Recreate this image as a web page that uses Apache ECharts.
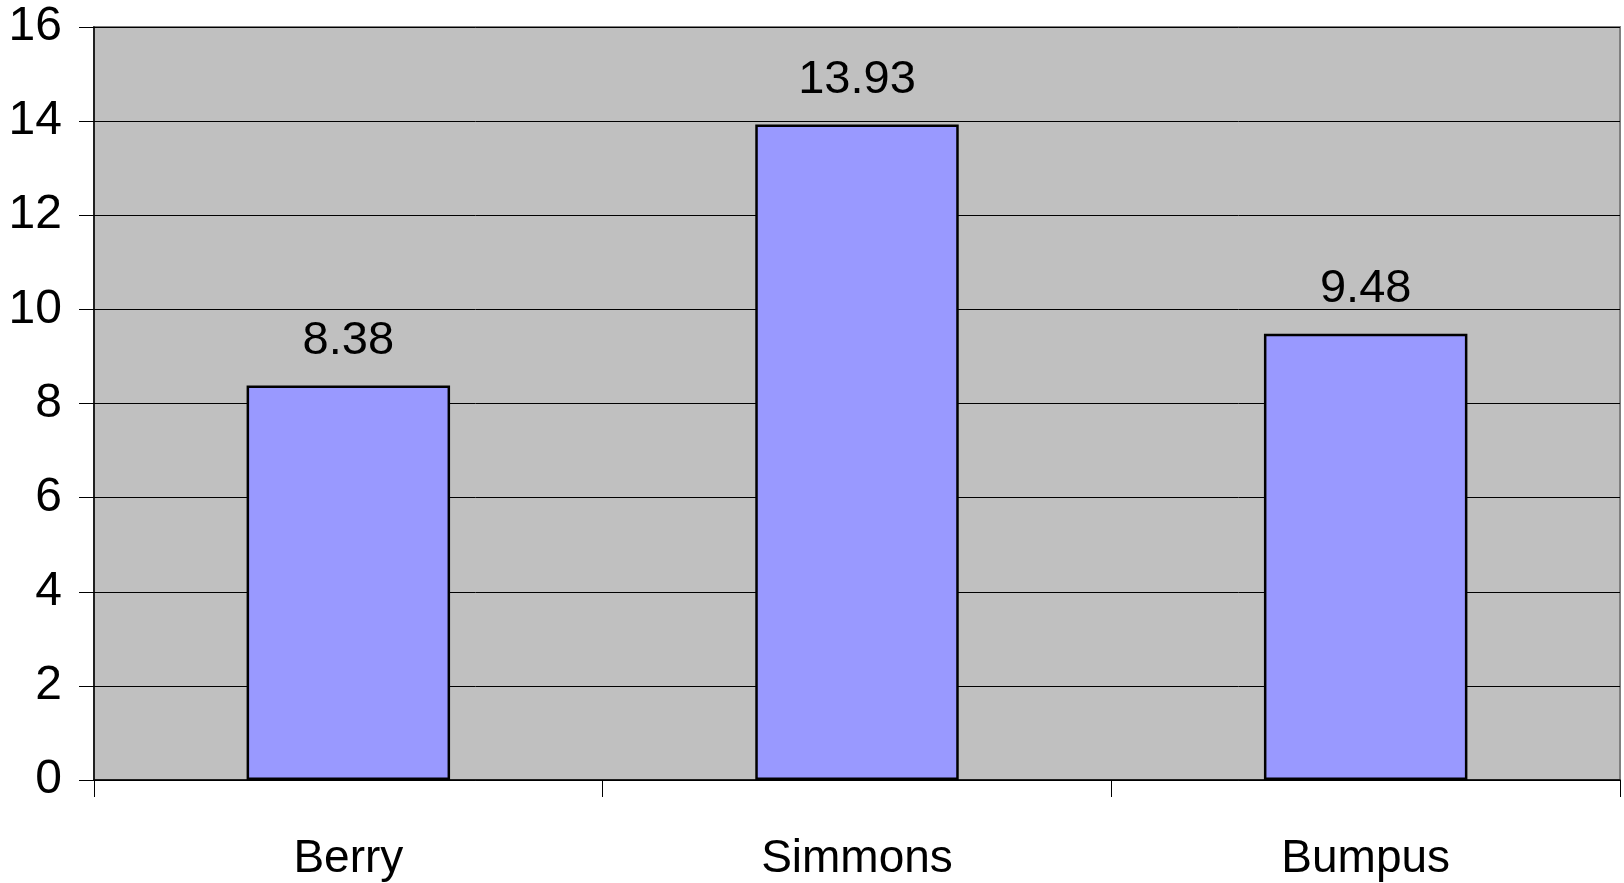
<!DOCTYPE html>
<html>
<head>
<meta charset="utf-8">
<script src="https://cdn.jsdelivr.net/npm/echarts@6/dist/echarts.min.js"></script>
<style>
html,body{margin:0;padding:0;background:#fff;}
#chart{width:1624px;height:883px;}
</style>
</head>
<body>
<div id="chart"></div>
<script>
const categories = ['Berry', 'Simmons', 'Bumpus'];
const values = [8.38, 13.93, 9.48];
const yTicks = { min: 0, max: 16, interval: 2 };

const FONT = '"Liberation Sans", Arial, sans-serif';
const chart = echarts.init(document.getElementById('chart'), null, { renderer: 'canvas' });
chart.setOption({
  animation: false,
  backgroundColor: '#ffffff',
  grid: {
    left: 94, top: 27, right: 4, bottom: 103,
    show: true, backgroundColor: '#c0c0c0', borderColor: '#808080', borderWidth: 2
  },
  xAxis: {
    type: 'category',
    data: categories,
    axisLine: { show: true, lineStyle: { color: '#000', width: 1.5 } },
    axisTick: { show: true, length: 17, lineStyle: { color: '#000', width: 1 } },
    axisLabel: { color: '#000', fontFamily: FONT, fontSize: 46, margin: 56 },
    splitLine: { show: false }
  },
  yAxis: {
    type: 'value',
    min: yTicks.min, max: yTicks.max, interval: yTicks.interval,
    axisLine: { show: true, lineStyle: { color: '#000', width: 1.5 } },
    axisTick: { show: true, length: 15, lineStyle: { color: '#000', width: 1 } },
    axisLabel: { color: '#000', fontFamily: FONT, fontSize: 48, margin: 32 },
    splitLine: { show: true, lineStyle: { color: '#000', width: 1 } }
  },
  series: [{
    type: 'bar',
    data: values,
    barWidth: '40%',
    itemStyle: { color: '#9999ff', borderColor: '#000', borderWidth: 2.5 },
    label: {
      show: true, position: 'top', distance: 21,
      color: '#000', fontFamily: FONT, fontSize: 47
    }
  }]
});
</script>
</body>
</html>
